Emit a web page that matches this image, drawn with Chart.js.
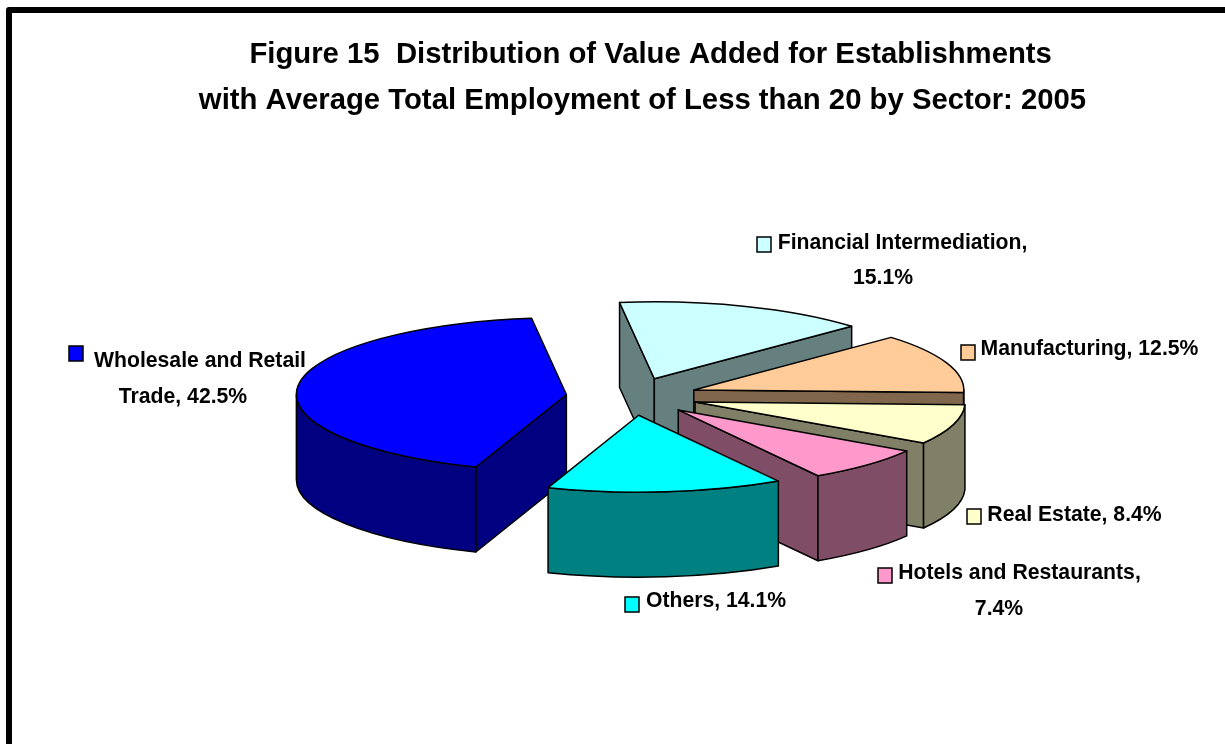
<!DOCTYPE html>
<html>
<head>
<meta charset="utf-8">
<style>html,body{margin:0;padding:0;background:#fff;overflow:hidden}canvas{display:block}</style>
<script src="https://cdn.jsdelivr.net/npm/chart.js@4/dist/chart.umd.min.js"></script>
</head>
<body>
<canvas id="c" width="1225" height="744"></canvas>
<script>
const titleLines = ["  Figure 15  Distribution of Value Added for Establishments", "with Average Total Employment of Less than 20 by Sector: 2005"];
const categories = ["Wholesale and Retail Trade", "Financial Intermediation", "Manufacturing", "Real Estate", "Hotels and Restaurants", "Others"];
const values = [42.5, 15.1, 12.5, 8.4, 7.4, 14.1];
const topColors = ["#0000FF", "#CCFFFF", "#FFCC99", "#FFFFCC", "#FF99CC", "#00FFFF"];
const sideColors = ["#000080", "#668080", "#80664D", "#808066", "#804D66", "#008080"];
const labelLines = [
  ["Wholesale and Retail", "Trade, 42.5%"],
  ["Financial Intermediation,", "15.1%"],
  ["Manufacturing, 12.5%"],
  ["Real Estate, 8.4%"],
  ["Hotels and Restaurants,", "7.4%"],
  ["Others, 14.1%"]
];

// layout, kept apart from the data
const view = { cx: 632, cy: 396.5, squash: 0.285, radius: 270, explode: 66, depth: 85, rotation: 199.6 };
const labelLayout = [
  { box: [69, 346], centers: [[200, 361.5], [183, 397.5]] },
  { box: [757, 237], centers: [[902.5, 243.5], [883, 278.5]] },
  { box: [961, 345], centers: [[1089.5, 349.5]] },
  { box: [967, 509], centers: [[1074.5, 515.5]] },
  { box: [878, 568], centers: [[1019.5, 573.5], [999, 609.5]] },
  { box: [625, 597], centers: [[716, 601.5]] }
];
const labelFont = 'bold 21.2px "Liberation Sans", Arial, sans-serif';

function geom(arc) {
  const mid = (arc.startAngle + arc.endAngle) / 2;
  const ox = view.cx + view.explode * Math.cos(mid);
  const oy = view.cy + view.explode * Math.sin(mid) * view.squash;
  const r = arc.outerRadius, ry = r * view.squash;
  const px = a => ox + r * Math.cos(a);
  const py = a => oy + ry * Math.sin(a);
  return { mid, ox, oy, r, ry, px, py };
}

function drawWall(ctx, g, a, color) {
  const d = view.depth;
  ctx.beginPath();
  ctx.moveTo(g.ox, g.oy);
  ctx.lineTo(g.px(a), g.py(a));
  ctx.lineTo(g.px(a), g.py(a) + d);
  ctx.lineTo(g.ox, g.oy + d);
  ctx.closePath();
  ctx.fillStyle = color;
  ctx.fill();
  ctx.stroke();
}

function drawRim(ctx, g, a0, a1, color) {
  const d = view.depth;
  for (let k = 0; k < 3; k++) {
    const lo = Math.max(a0, k * 2 * Math.PI);
    const hi = Math.min(a1, k * 2 * Math.PI + Math.PI);
    if (hi <= lo) continue;
    ctx.beginPath();
    ctx.ellipse(g.ox, g.oy, g.r, g.ry, 0, lo, hi, false);
    ctx.ellipse(g.ox, g.oy + d, g.r, g.ry, 0, hi, lo, true);
    ctx.closePath();
    ctx.fillStyle = color;
    ctx.fill();
    ctx.stroke();
  }
}

const pie3d = {
  id: 'pie3d',
  beforeDraw(chart) {
    const ctx = chart.ctx;
    ctx.save();
    ctx.fillStyle = '#fff';
    ctx.fillRect(0, 0, chart.width, chart.height);
    ctx.strokeStyle = '#000';
    ctx.lineWidth = 6;
    ctx.lineJoin = 'round';
    ctx.beginPath();
    ctx.moveTo(9, chart.height + 10);
    ctx.lineTo(9, 10);
    ctx.lineTo(chart.width + 10, 10);
    ctx.stroke();
    ctx.restore();
  },
  beforeDatasetDraw(chart, args) {
    const ctx = chart.ctx;
    const arcs = chart.getDatasetMeta(args.index).data;
    arcs.forEach((arc, i) => {
      const g = geom(arc);
      const a0 = arc.startAngle, a1 = arc.endAngle;
      ctx.save();
      ctx.strokeStyle = '#000';
      ctx.lineWidth = 1.5;
      ctx.lineJoin = 'round';
      if (-Math.cos(a0) > 0) drawWall(ctx, g, a0, sideColors[i]);
      if (Math.cos(a1) > 0) drawWall(ctx, g, a1, sideColors[i]);
      drawRim(ctx, g, a0, a1, sideColors[i]);
      ctx.restore();

      ctx.save();
      ctx.translate(g.ox, g.oy);
      ctx.scale(1, view.squash);
      ctx.translate(-arc.x, -arc.y);
      arc.draw(ctx);
      ctx.restore();

      ctx.save();
      ctx.strokeStyle = '#000';
      ctx.lineWidth = 1.5;
      ctx.lineJoin = 'round';
      ctx.beginPath();
      ctx.moveTo(g.ox, g.oy);
      ctx.lineTo(g.px(a0), g.py(a0));
      ctx.ellipse(g.ox, g.oy, g.r, g.ry, 0, a0, a1, false);
      ctx.closePath();
      ctx.stroke();
      ctx.restore();
    });
    return false;
  },
  afterDatasetsDraw(chart) {
    const ctx = chart.ctx;
    ctx.save();
    ctx.font = labelFont;
    ctx.textAlign = 'center';
    ctx.textBaseline = 'middle';
    labelLines.forEach((lines, i) => {
      const lay = labelLayout[i];
      ctx.fillStyle = topColors[i];
      ctx.strokeStyle = '#000';
      ctx.lineWidth = 1.5;
      ctx.fillRect(lay.box[0], lay.box[1], 14, 15);
      ctx.strokeRect(lay.box[0], lay.box[1], 14, 15);
      ctx.fillStyle = '#000';
      lines.forEach((t, j) => ctx.fillText(t, lay.centers[j][0], lay.centers[j][1]));
    });
    ctx.restore();
  }
};

new Chart(document.getElementById('c'), {
  type: 'pie',
  data: {
    labels: categories,
    datasets: [{
      data: values,
      backgroundColor: topColors,
      borderWidth: 0,
      clip: false
    }]
  },
  options: {
    responsive: false,
    animation: false,
    radius: view.radius,
    rotation: view.rotation,
    layout: { padding: { left: 60 } },
    plugins: {
      legend: { display: false },
      tooltip: { enabled: false },
      title: {
        display: true,
        text: titleLines,
        color: '#000',
        font: { family: '"Liberation Sans", Arial, sans-serif', weight: 'bold', size: 29.3, lineHeight: 1.57 },
        padding: { top: 32, bottom: 10 }
      }
    }
  },
  plugins: [pie3d]
});
</script>
</body>
</html>
